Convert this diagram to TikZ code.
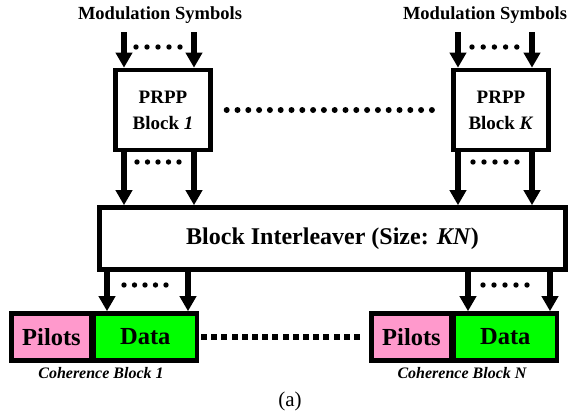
\documentclass[tikz,border=0pt]{standalone}
\usepackage{fontspec}
\setmainfont{Liberation Serif}
\usetikzlibrary{arrows.meta}
\definecolor{pilotpink}{HTML}{FF99CC}
\definecolor{datagreen}{HTML}{00FF00}
\tikzset{
  boxline/.style={draw=black, line width=4.6pt, inner sep=0pt, outer sep=auto},
  prpp/.style={boxline, fill=white, minimum width=95pt, minimum height=80pt,
    align=center, font=\fontsize{19}{26}\selectfont\bfseries},
  ilv/.style={boxline, fill=white, minimum width=466pt, minimum height=62pt,
    font=\fontsize{24}{28}\selectfont\bfseries},
  pilot/.style={boxline, fill=pilotpink, minimum width=80pt, minimum height=47pt,
    font=\fontsize{24.5}{28}\selectfont\bfseries},
  data/.style={boxline, fill=datagreen, minimum width=103pt, minimum height=47pt,
    font=\fontsize{24.5}{28}\selectfont\bfseries},
  flow/.style={line width=6pt, -{Triangle[width=16pt,length=15pt]}},
  modlabel/.style={font=\fontsize{18.5}{22}\selectfont\bfseries},
  cohlabel/.style={font=\fontsize{16}{20}\selectfont\bfseries\itshape},
  dot/.style={fill=black, draw=none}
}
\begin{document}
\begin{tikzpicture}[x=1pt, y=-1pt]
  \useasboundingbox (0,0) rectangle (571,416);

  % input labels
  \node[modlabel] (ms1) at (160,15) {Modulation Symbols};
  \node[modlabel] (msK) at (485,15) {Modulation Symbols};

  % permutation blocks
  \node[prpp] (b1) at (163,110) {PRPP\\Block \textit{1}};
  \node[prpp] (bK) at (501,110) {PRPP\\Block \textit{K}};

  % interleaver
  \node[ilv] (il) at (332.5,238.5) {Block Interleaver (Size: \textit{KN})};

  % coherence blocks
  \node[pilot] (p1) at (51.5,337) {Pilots};
  \node[data, anchor=west] (d1) at (p1.center -| 91.5,0) {Data};
  \node[pilot] (pN) at (411.5,337) {Pilots};
  \node[data, anchor=west] (dN) at (pN.center -| 451.5,0) {Data};
  \node[cohlabel] (c1) at (101,373) {Coherence Block 1};
  \node[cohlabel] (cN) at (462,373) {Coherence Block N};

  \node[font=\fontsize{21}{24}\selectfont] (cap) at (290,401) {(a)};

  % arrow start points
  \coordinate (s1a) at (124,32);
  \coordinate (s1b) at (194,32);
  \coordinate (sKa) at (458,32);
  \coordinate (sKb) at (532,32);

  % inputs into the PRPP blocks
  \draw[flow] (s1a) -- (s1a |- b1.north);
  \draw[flow] (s1b) -- (s1b |- b1.north);
  \draw[flow] (sKa) -- (sKa |- bK.north);
  \draw[flow] (sKb) -- (sKb |- bK.north);

  % PRPP blocks into the interleaver
  \draw[flow] (s1a |- b1.south) -- (s1a |- il.north);
  \draw[flow] (s1b |- b1.south) -- (s1b |- il.north);
  \draw[flow] (sKa |- bK.south) -- (sKa |- il.north);
  \draw[flow] (sKb |- bK.south) -- (sKb |- il.north);

  % interleaver into the coherence blocks
  \coordinate (o1a) at (107,0);
  \coordinate (o1b) at (188,0);
  \coordinate (oNa) at (468,0);
  \coordinate (oNb) at (550,0);
  \draw[flow] (o1a |- il.south) -- (o1a |- d1.north);
  \draw[flow] (o1b |- il.south) -- (o1b |- d1.north);
  \draw[flow] (oNa |- il.south) -- (oNa |- dN.north);
  \draw[flow] (oNb |- il.south) -- (oNb |- dN.north);

  % small dot rows between parallel arrows
  \foreach \x in {0,...,4} {
    \fill[dot] (136+11*\x,47) circle (2.7);
    \fill[dot] (472+11.2*\x,47) circle (2.7);
    \fill[dot] (137+10.5*\x,162) circle (2.7);
    \fill[dot] (473+11*\x,162) circle (2.7);
    \fill[dot] (124+10.5*\x,285) circle (2.7);
    \fill[dot] (483+11*\x,285) circle (2.7);
  }

  % dots between the PRPP blocks
  \foreach \x in {0,...,19}
    \fill[dot] (226.7+10.8*\x,110) circle (3);

  % squares between the coherence blocks
  \foreach \x in {0,...,15}
    \fill[dot] (204+10.2*\x-3,334) rectangle ++(6,6);
\end{tikzpicture}
\end{document}
